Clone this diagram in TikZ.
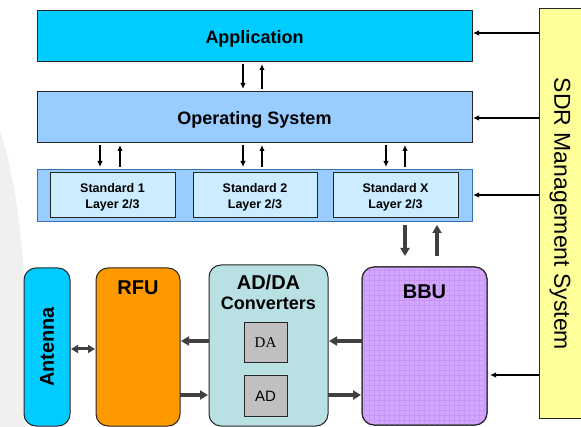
\documentclass[tikz,border=0pt]{standalone}
\usepackage{fontspec}
\setmainfont{Liberation Sans}
\newfontfamily\serifdl{Liberation Serif}
\usetikzlibrary{arrows.meta}
\definecolor{appc}{HTML}{00CCFF}
\definecolor{osc}{HTML}{99CCFF}
\definecolor{stdin}{HTML}{CCECFF}
\definecolor{sdrc}{HTML}{FFFF99}
\definecolor{rfuc}{HTML}{FF9900}
\definecolor{addac}{HTML}{B9E0E3}
\definecolor{bbuc}{HTML}{D3A6FF}
\definecolor{bbugrid}{HTML}{C794F8}
\definecolor{grayb}{HTML}{C0C0C0}
\definecolor{darkar}{HTML}{404040}
\definecolor{contb}{HTML}{3A6FB0}
\definecolor{wm}{HTML}{F2F0EE}
\tikzset{
  box/.style={draw=black!85, line width=1pt, anchor=north west, inner sep=0pt, outer sep=0pt},
  rbox/.style={box, rounded corners=12pt},
  thinar/.style={-{Latex[length=6pt,width=5.5pt]}, line width=1.3pt, black},
  thickar/.style={-{Triangle[length=8pt,width=9pt]}, line width=4pt, darkar},
  title/.style={font=\fontsize{18}{21}\selectfont\bfseries, yshift=-2pt},
  stdtxt/.style={font=\fontsize{12.5}{16}\selectfont\bfseries, align=center, yshift=-2pt},
  big/.style={font=\fontsize{20}{23}\selectfont\bfseries, align=center}
}
\begin{document}
\begin{tikzpicture}[x=1pt,y=-1pt]
\useasboundingbox (0,0) rectangle (581,427);
\fill[wm] (0,130) .. controls (22,200) and (30,300) .. (26,427) -- (0,427) -- cycle;
% top stack
\node[box, fill=appc, minimum width=435pt, minimum height=51pt] (app) at (37,11) {};
\node[title] at (app.center) {Application};
\node[box, fill=osc, minimum width=435pt, minimum height=51pt] (os) at (37,92) {};
\node[title] at (os.center) {Operating System};
\node[box, draw=contb, fill=osc, minimum width=435pt, minimum height=52pt] (stdc) at (37,170) {};
\node[box, fill=stdin, minimum width=125pt, minimum height=45pt] (s1) at (50,173) {};
\node[box, fill=stdin, minimum width=124pt, minimum height=45pt] (s2) at (193,173) {};
\node[box, fill=stdin, minimum width=125pt, minimum height=45pt] (sx) at (333,173) {};
\node[stdtxt] at (s1.center) {Standard 1\\Layer 2/3};
\node[stdtxt] at (s2.center) {Standard 2\\Layer 2/3};
\node[stdtxt] at (sx.center) {Standard X\\Layer 2/3};
% SDR
\node[box, fill=sdrc, minimum width=46pt, minimum height=410pt] (sdr) at (539,9) {};
\node[rotate=-90, font=\fontsize{23}{26}\selectfont] at (560,214) {SDR Management System};
% bottom row
\node[rbox, fill=appc, minimum width=46pt, minimum height=158pt] (ant) at (24,268) {};
\node[rotate=90, big] at (47,347) {Antenna};
\node[rbox, fill=rfuc, minimum width=84pt, minimum height=158pt] (rfu) at (96,268) {};
\node[big] at (138,288) {RFU};
\node[rbox, fill=addac, minimum width=119pt, minimum height=161pt] (adda) at (209,265) {};
\node[big] at (268.5,282) {AD/DA};
\node[font=\fontsize{18}{21}\selectfont\bfseries] at (268.5,303) {Converters};
\node[box, fill=grayb, minimum width=43pt, minimum height=40pt] (da) at (244,323) {};
\node[font=\fontsize{15}{17}\selectfont\serifdl] at (da.center) {DA};
\node[box, fill=grayb, minimum width=43pt, minimum height=41pt] (ad) at (244,376) {};
\node[font=\fontsize{15}{17}\selectfont] at (ad.center) {AD};
\node[rbox, fill=bbuc, minimum width=125pt, minimum height=158pt] (bbu) at (362,267) {};
\begin{scope}
\clip[rounded corners=12pt] (362,267) rectangle (487,425);
\foreach \i in {0,...,25} {\draw[bbugrid, line width=0.4pt] (364+5*\i,267) -- (364+5*\i,425);}
\foreach \j in {0,...,32} {\draw[bbugrid, line width=0.4pt] (362,270+5*\j) -- (487,270+5*\j);}
\end{scope}
\draw[black!85, line width=1pt, rounded corners=12pt] (362,267) rectangle (487,425);
\node[big] at (424.5,292) {BBU};
% coordinates for arrow positions
\coordinate (xa) at (243,0); \coordinate (xb) at (262,0);
\coordinate (x1) at (100,0); \coordinate (x2) at (120,0);
\coordinate (x3) at (243,0); \coordinate (x4) at (262,0);
\coordinate (x5) at (386,0); \coordinate (x6) at (405,0);
\coordinate (xt1) at (405,0); \coordinate (xt2) at (437,0);
\coordinate (ya) at (0,33); \coordinate (yo) at (0,118); \coordinate (ys) at (0,195); \coordinate (yb) at (0,375);
\coordinate (yh1) at (0,341); \coordinate (yh2) at (0,395); \coordinate (yant) at (0,349);
% app <-> os
\draw[thinar, shorten <=2pt, shorten >=3pt] (xa |- app.south) -- (xa |- os.north);
\draw[thinar, shorten <=3pt, shorten >=2pt] (xb |- os.north) -- (xb |- app.south);
% os <-> standards
\foreach \d/\u in {x1/x2, x3/x4, x5/x6} {
  \draw[thinar, shorten <=2pt, shorten >=3pt] (\d |- os.south) -- (\d |- stdc.north);
  \draw[thinar, shorten <=3pt, shorten >=2pt] (\u |- stdc.north) -- (\u |- os.south);
}
% SDR arrows
\draw[thinar, shorten >=1pt] (sdr.west |- ya) -- (app.east |- ya);
\draw[thinar, shorten >=1pt] (sdr.west |- yo) -- (os.east |- yo);
\draw[thinar, shorten >=1pt] (sdr.west |- ys) -- (stdc.east |- ys);
\draw[thinar, shorten >=3pt] (sdr.west |- yb) -- (bbu.east |- yb);
% thick arrows
\draw[thickar, shorten <=3pt, shorten >=11pt] (xt1 |- stdc.south) -- (xt1 |- bbu.north);
\draw[thickar, shorten <=11pt, shorten >=3pt] (xt2 |- bbu.north) -- (xt2 |- stdc.south);
\draw[thickar, shorten >=1pt] (adda.west |- yh1) -- (rfu.east |- yh1);
\draw[thickar, shorten >=1pt] (rfu.east |- yh2) -- (adda.west |- yh2);
\draw[thickar, shorten >=1pt] (bbu.west |- yh1) -- (adda.east |- yh1);
\draw[thickar, shorten >=1pt] (adda.east |- yh2) -- (bbu.west |- yh2);
\draw[{Triangle[length=7pt,width=8pt]}-{Triangle[length=7pt,width=8pt]}, line width=3pt, darkar, shorten <=1pt, shorten >=1pt] (ant.east |- yant) -- (rfu.west |- yant);
\end{tikzpicture}
\end{document}
